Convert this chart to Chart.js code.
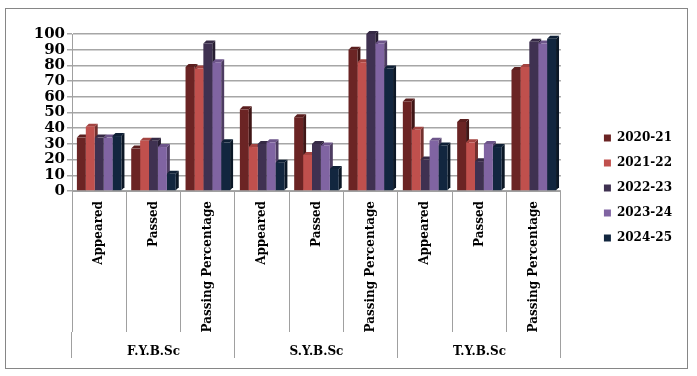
<!DOCTYPE html>
<html>
<head>
<meta charset="utf-8">
<script src="https://cdn.jsdelivr.net/npm/chart.js@4/dist/chart.umd.min.js"></script>
<style>
  html, body { margin: 0; padding: 0; background: #ffffff; }
  #wrap { position: relative; width: 697px; height: 376px; }
</style>
</head>
<body>
<div id="wrap"><canvas id="c" width="697" height="376"></canvas></div>
<script>
// ---- data ----
const categories = ['Appeared', 'Passed', 'Passing Percentage',
                    'Appeared', 'Passed', 'Passing Percentage',
                    'Appeared', 'Passed', 'Passing Percentage'];
const groups = ['F.Y.B.Sc', 'S.Y.B.Sc', 'T.Y.B.Sc'];
const seriesNames = ['2020-21', '2021-22', '2022-23', '2023-24', '2024-25'];
const y2020_21 = [34, 27, 79, 52, 47, 90, 57, 44, 77];
const y2021_22 = [41, 32, 78, 28, 23, 82, 39, 31, 79];
const y2022_23 = [34, 32, 94, 30, 30, 100, 20, 19, 95];
const y2023_24 = [34, 28, 82, 31, 29, 94, 32, 30, 94];
const y2024_25 = [35, 11, 31, 18, 14, 78, 29, 28, 97];
const yTicks = [0, 10, 20, 30, 40, 50, 60, 70, 80, 90, 100];

const seriesValues = [y2020_21, y2021_22, y2022_23, y2023_24, y2024_25];
const seriesColors = ['#6b2424', '#c0504d', '#3f3151', '#8064a2', '#12263f'];

const FONT = "'DejaVu Serif', 'Liberation Serif', serif";

function shade(hex, amt) {
  const n = parseInt(hex.slice(1), 16);
  let r = (n >> 16) & 255, g = (n >> 8) & 255, b = n & 255;
  const f = c => amt < 0 ? Math.round(c * (1 + amt)) : Math.round(c + (255 - c) * amt);
  return 'rgb(' + f(r) + ',' + f(g) + ',' + f(b) + ')';
}

const threeD = {
  id: 'threeD',
  beforeDatasetsDraw(chart) {
    const ctx = chart.ctx;
    const d = 3;
    ctx.save();
    chart.data.datasets.forEach((ds, i) => {
      const meta = chart.getDatasetMeta(i);
      meta.data.forEach(bar => {
        const p = bar.getProps(['x', 'y', 'base', 'width'], true);
        const l = p.x - p.width / 2, r = p.x + p.width / 2;
        ctx.fillStyle = shade(ds.backgroundColor, -0.4);
        ctx.beginPath();
        ctx.moveTo(r, p.y); ctx.lineTo(r + d, p.y - d);
        ctx.lineTo(r + d, p.base - d); ctx.lineTo(r, p.base);
        ctx.closePath(); ctx.fill();
        ctx.fillStyle = shade(ds.backgroundColor, -0.15);
        ctx.beginPath();
        ctx.moveTo(l, p.y); ctx.lineTo(l + d, p.y - d);
        ctx.lineTo(r + d, p.y - d); ctx.lineTo(r, p.y);
        ctx.closePath(); ctx.fill();
      });
    });
    ctx.restore();
  }
};

const frame = {
  id: 'frame',
  afterDraw(chart) {
    const ctx = chart.ctx;
    ctx.save();
    ctx.strokeStyle = '#868686';
    ctx.lineWidth = 1;
    ctx.strokeRect(5.5, 8.5, 682, 360);
    ctx.restore();
  }
};

new Chart(document.getElementById('c'), {
  type: 'bar',
  data: {
    labels: categories,
    datasets: seriesNames.map((name, i) => ({
      label: name,
      data: seriesValues[i],
      backgroundColor: seriesColors[i],
      borderWidth: 0,
      xAxisID: 'x',
      yAxisID: 'y',
      barPercentage: 1.0,
      categoryPercentage: 0.82
    }))
  },
  options: {
    responsive: false,
    animation: false,
    layout: { padding: { left: 0, right: 15, top: 0, bottom: 0 } },
    plugins: {
      tooltip: { enabled: false },
      legend: {
        position: 'right',
        align: 'center',
        labels: {
          boxWidth: 7,
          boxHeight: 7,
          padding: 13,
          color: '#000000',
          font: { family: FONT, size: 12, weight: 'bold' }
        }
      }
    },
    scales: {
      x: {
        type: 'category',
        position: 'bottom',
        weight: 0,
        offset: true,
        grid: { offset: true, drawOnChartArea: false, tickLength: 141, color: '#a0a0a0', lineWidth: 1 },
        border: { display: true, color: '#a0a0a0' },
        ticks: {
          autoSkip: false, minRotation: 90, maxRotation: 90, padding: -131,
          color: '#000000', font: { family: FONT, size: 12, weight: 'bold' }
        },
        afterFit: s => { s.height = 141; }
      },
      x2: {
        type: 'category',
        labels: groups,
        position: 'bottom',
        weight: 1,
        offset: true,
        grid: { offset: true, drawOnChartArea: false, tickLength: 26, color: '#a0a0a0', lineWidth: 1 },
        border: { display: false },
        ticks: {
          autoSkip: false, maxRotation: 0, padding: -13,
          color: '#000000', font: { family: FONT, size: 12, weight: 'bold' }
        },
        afterFit: s => { s.height = 44; }
      },
      xTop: {
        type: 'category',
        labels: categories,
        position: 'top',
        grid: { display: false },
        border: { display: false },
        ticks: { display: false },
        afterFit: s => { s.height = 34; }
      },
      y: {
        type: 'linear',
        position: 'left',
        min: 0,
        max: 100,
        afterBuildTicks: s => { s.ticks = yTicks.map(v => ({ value: v })); },
        grid: { color: '#a6a6a6', lineWidth: 1.5, tickLength: 5 },
        border: { display: true, color: '#a0a0a0' },
        ticks: { autoSkip: false, padding: 2, color: '#000000', font: { family: FONT, size: 15, weight: 'bold' } },
        afterFit: s => { s.width = 72; }
      },
      yGap: {
        type: 'linear',
        position: 'right',
        grid: { display: false },
        border: { display: false },
        ticks: { display: false },
        afterFit: s => { s.width = 30; }
      }
    }
  },
  plugins: [threeD, frame]
});
</script>
</body>
</html>
